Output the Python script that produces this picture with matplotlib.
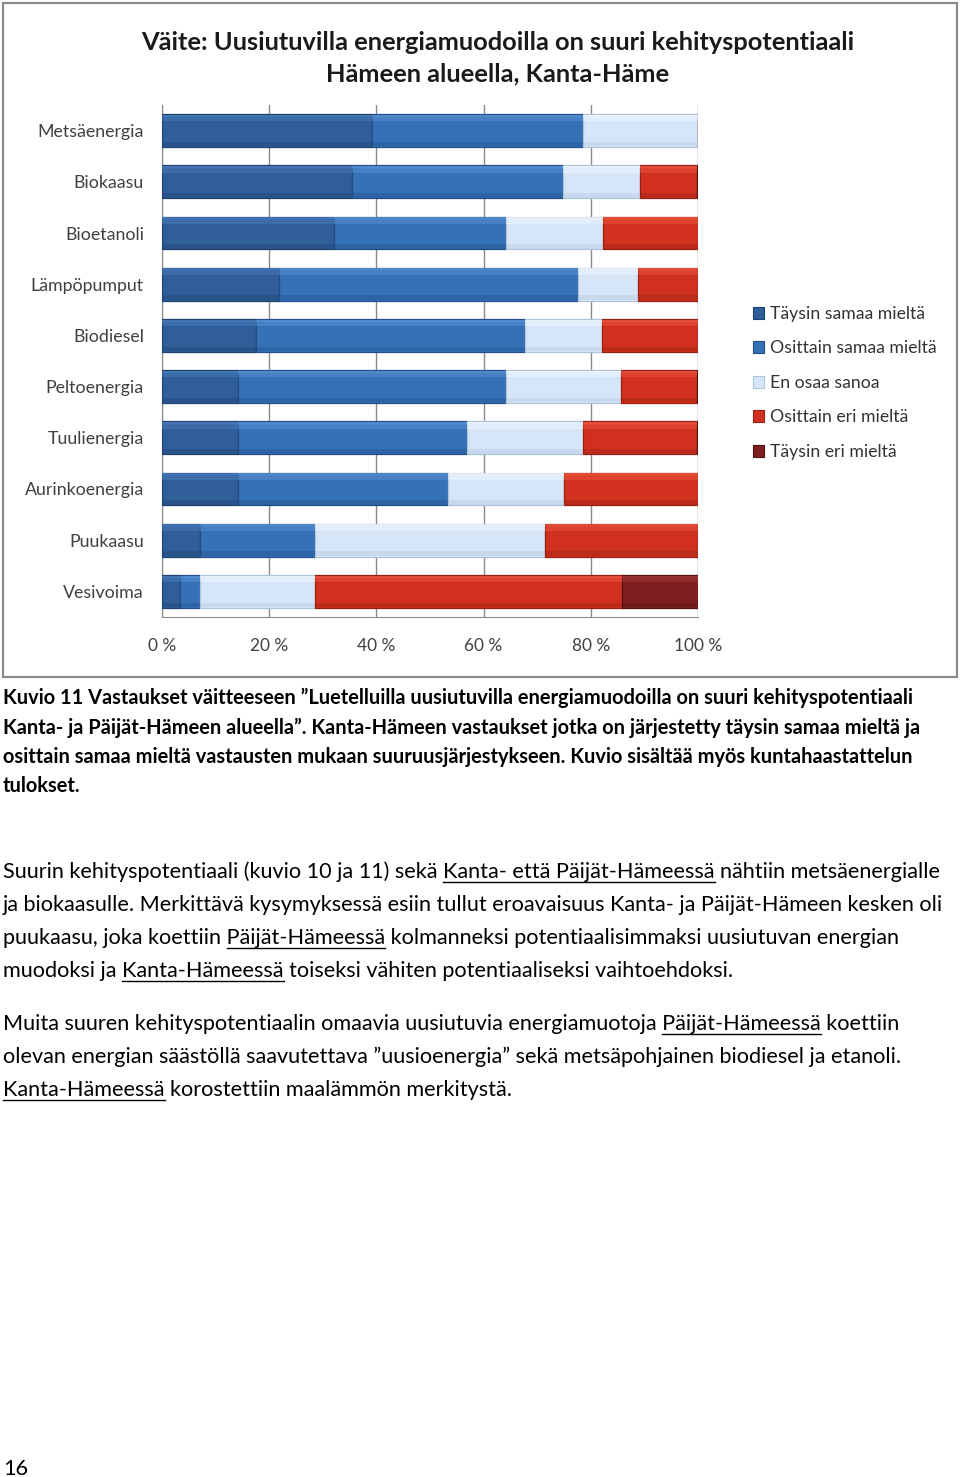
import matplotlib
matplotlib.use("Agg")
import matplotlib.pyplot as plt
from matplotlib.patches import Rectangle, Patch
from matplotlib.lines import Line2D
from matplotlib.ticker import FuncFormatter
import numpy as np

W, H = 960, 1477

# --- data (% of answers) ---
categories = ["Metsäenergia", "Biokaasu", "Bioetanoli", "Lämpöpumput", "Biodiesel",
              "Peltoenergia", "Tuulienergia", "Aurinkoenergia", "Puukaasu", "Vesivoima"]
series_names = ["Täysin samaa mieltä", "Osittain samaa mieltä", "En osaa sanoa",
                "Osittain eri mieltä", "Täysin eri mieltä"]
taysin_samaa = [39.1, 35.4, 32.1, 21.9, 17.6, 14.1, 14.1, 14.1, 7.0, 3.4]
osittain_samaa = [39.5, 39.5, 32.1, 55.8, 50.1, 50.0, 42.8, 39.3, 21.5, 3.6]
en_osaa = [21.4, 14.2, 18.0, 11.1, 14.4, 21.6, 21.6, 21.6, 42.9, 21.6]
osittain_eri = [0, 10.8, 17.9, 11.2, 17.9, 14.2, 21.4, 25.1, 28.6, 57.2]
taysin_eri = [0, 0, 0, 0, 0, 0, 0, 0, 0, 14.2]
x_ticks = [0, 20, 40, 60, 80, 100]

title_lines = ["Väite: Uusiutuvilla energiamuodoilla on suuri kehityspotentiaali",
               "Hämeen alueella, Kanta-Häme"]
caption = [
    "Kuvio 11 Vastaukset väitteeseen ”Luetelluilla uusiutuvilla energiamuodoilla on suuri kehityspotentiaali",
    "Kanta- ja Päijät-Hämeen alueella”. Kanta-Hämeen vastaukset jotka on järjestetty täysin samaa mieltä ja",
    "osittain samaa mieltä vastausten mukaan suuruusjärjestykseen. Kuvio sisältää myös kuntahaastattelun",
    "tulokset.",
]
# (text, underlined) runs per line
para1 = [
    [("Suurin kehityspotentiaali (kuvio 10 ja 11) sekä ", False), ("Kanta- että Päijät-Hämeessä", True),
     (" nähtiin metsäenergialle", False)],
    [("ja biokaasulle. Merkittävä kysymyksessä esiin tullut eroavaisuus Kanta- ja Päijät-Hämeen kesken oli", False)],
    [("puukaasu, joka koettiin ", False), ("Päijät-Hämeessä", True),
     (" kolmanneksi potentiaalisimmaksi uusiutuvan energian", False)],
    [("muodoksi ja ", False), ("Kanta-Hämeessä", True), (" toiseksi vähiten potentiaaliseksi vaihtoehdoksi.", False)],
]
para2 = [
    [("Muita suuren kehityspotentiaalin omaavia uusiutuvia energiamuotoja ", False), ("Päijät-Hämeessä", True),
     (" koettiin", False)],
    [("olevan energian säästöllä saavutettava ”uusioenergia” sekä metsäpohjainen biodiesel ja etanoli.", False)],
    [("Kanta-Hämeessä", True), (" korostettiin maalämmön merkitystä.", False)],
]

FONT = ["Lato", "DejaVu Sans"]
plt.rcParams["font.family"] = FONT

# base, light (top bevel), dark (bottom bevel / edge)
colors = [
    ("#2F5E99", "#4C7FC0", "#1E406E"),
    ("#3571B7", "#5C96D8", "#224E85"),
    ("#D6E6F8", "#F0F6FD", "#AFC3DA"),
    ("#D1301E", "#EE5B46", "#971F13"),
    ("#7E1F1F", "#A23B37", "#521111"),
]

fig = plt.figure(figsize=(W / 100, H / 100), dpi=100)
renderer = fig.canvas.get_renderer()


def fy(y):
    return 1 - y / H


def text_width(s, **kw):
    t = fig.text(0, 0, s, **kw)
    w = t.get_window_extent(renderer).width
    t.remove()
    return w


def fit_size(s, target, **kw):
    base = 12
    return base * target / text_width(s, fontsize=base, **kw)


# chart frame
fig.add_artist(Rectangle((3 / W, fy(677)), (957 - 3) / W, (677 - 3) / H, transform=fig.transFigure,
                         fill=False, edgecolor="#8C8C8C", lw=1.6))

# title
tsize = fit_size(title_lines[0], 707, fontweight="bold")
for i, line in enumerate(title_lines):
    fig.text(498 / W, fy(42 + 32 * i), line, ha="center", va="center", fontsize=tsize,
             fontweight="bold", color="#1a1a1a")

# bars
ax = fig.add_axes([162 / W, fy(617), (698 - 162) / W, (617 - 105) / H])
y = np.arange(len(categories))
h = 0.64
series = [taysin_samaa, osittain_samaa, en_osaa, osittain_eri, taysin_eri]
left = np.zeros(len(categories))
for vals, (base, light, dark) in zip(series, colors):
    vals = np.array(vals)
    ax.barh(y, vals, left=left, height=h, color=base, edgecolor=dark, lw=0.9, zorder=3)
    # soft bevel: light band on top, shade at the bottom
    ax.barh(y - h / 2 + h * 0.12, vals, left=left, height=h * 0.2, color=light, lw=0, alpha=0.45, zorder=4)
    ax.barh(y - h / 2 + h * 0.05, vals, left=left, height=h * 0.06, color=light, lw=0, alpha=0.5, zorder=4)
    ax.barh(y + h / 2 - h * 0.09, vals, left=left, height=h * 0.14, color=dark, lw=0, alpha=0.35, zorder=4)
    left += vals

ax.set_xlim(0, 100)
ax.set_ylim(len(categories) - 0.5, -0.5)
ax.set_xticks(x_ticks)
ax.xaxis.set_major_formatter(FuncFormatter(lambda v, p: f"{v:.0f} %"))
ax.set_yticks(y)
ax.set_yticklabels(categories)
ax.grid(axis="x", color="#8A8A8A", lw=1, zorder=0)
for s in ["top", "right"]:
    ax.spines[s].set_visible(False)
for s in ["left", "bottom"]:
    ax.spines[s].set_color("#8A8A8A")
ax.tick_params(axis="both", length=0, colors="#404040")
ax.tick_params(axis="y", labelsize=12.8, pad=13)
ax.tick_params(axis="x", labelsize=12.4, pad=15)

handles = [Patch(facecolor=c[0], edgecolor=c[2], lw=0.8) for c in colors]
fig.legend(handles, series_names, loc="upper left", bbox_to_anchor=(744 / W, fy(297)),
           frameon=False, fontsize=12.7, handlelength=0.65, handleheight=0.65,
           handletextpad=0.3, labelspacing=1.05, labelcolor="#333333", borderpad=0)

# caption (bold)
csize = fit_size(caption[0], 903, fontweight="bold")
for i, line in enumerate(caption):
    fig.text(3 / W, fy(704 + 29.5 * i), line, ha="left", va="baseline", fontsize=csize,
             fontweight="bold", color="black")


def draw_para(lines, baseline0, step, size):
    for i, runs in enumerate(lines):
        yb = baseline0 + step * i
        full = "".join(r[0] for r in runs)
        fig.text(3 / W, fy(yb), full, ha="left", va="baseline", fontsize=size, color="black")
        pos = ""
        bar_w = text_width("|", fontsize=size)
        for txt, ul in runs:
            if ul:
                x0 = 3 + text_width(pos + "|", fontsize=size) - bar_w
                x1 = x0 + text_width(txt, fontsize=size)
                fig.add_artist(Line2D([x0 / W, x1 / W], [fy(yb + 4), fy(yb + 4)],
                                      transform=fig.transFigure, color="black", lw=1.0))
            pos += txt


bsize = fit_size("".join(r[0] for r in para1[0]), 935)
draw_para(para1, 878, 33, bsize)
draw_para(para2, 1030, 33, bsize)

fig.text(3 / W, fy(1475), "16", ha="left", va="baseline", fontsize=bsize, color="black")

fig.savefig("out.png", dpi=100)
